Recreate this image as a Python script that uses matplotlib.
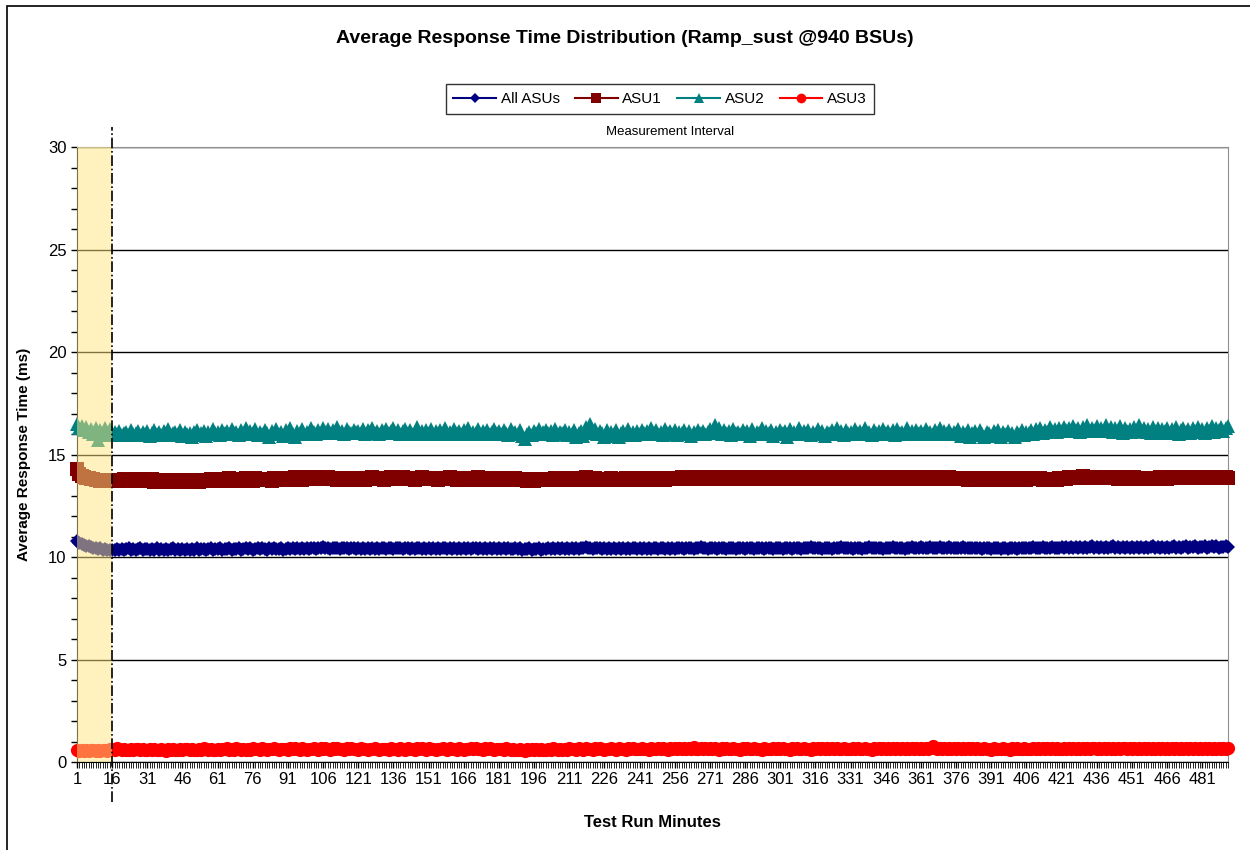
import numpy as np
import matplotlib.pyplot as plt
from matplotlib.ticker import MultipleLocator, FixedLocator
from matplotlib.patches import Rectangle

plt.rcParams['font.family'] = ['Liberation Sans', 'DejaVu Sans']

title = 'Average Response Time Distribution (Ramp_sust @940 BSUs)'
series_names = ['All ASUs', 'ASU1', 'ASU2', 'ASU3']
tick_minutes = list(range(1, 482, 15))
start_interval = 16

# average response time (ms) per minute, rows of 15 minutes
all_asus = [
    10.78,10.70,10.65,10.60,10.56,10.52,10.50,10.46,10.44,10.40,10.42,10.36,10.38,10.32,10.34,
    10.32,10.36,10.38,10.34,10.40,10.36,10.38,10.42,10.36,10.40,10.34,10.38,10.42,10.36,10.40,
    10.38,10.34,10.40,10.36,10.42,10.34,10.38,10.36,10.40,10.34,10.38,10.42,10.36,10.40,10.34,
    10.38,10.36,10.40,10.34,10.38,10.36,10.42,10.34,10.38,10.40,10.36,10.38,10.42,10.36,10.40,
    10.38,10.42,10.36,10.40,10.38,10.44,10.36,10.40,10.38,10.42,10.36,10.40,10.44,10.38,10.42,
    10.36,10.40,10.44,10.38,10.42,10.40,10.36,10.42,10.38,10.44,10.40,10.38,10.42,10.36,10.40,
    10.42,10.38,10.44,10.40,10.46,10.38,10.42,10.40,10.44,10.38,10.42,10.46,10.40,10.44,10.42,
    10.48,10.42,10.46,10.40,10.44,10.42,10.46,10.40,10.44,10.42,10.46,10.40,10.44,10.42,10.40,
    10.44,10.40,10.42,10.38,10.44,10.40,10.42,10.38,10.44,10.40,10.42,10.46,10.40,10.44,10.42,
    10.40,10.44,10.42,10.46,10.40,10.44,10.42,10.38,10.44,10.40,10.42,10.46,10.40,10.42,10.38,
    10.44,10.40,10.42,10.38,10.44,10.40,10.46,10.42,10.40,10.44,10.38,10.42,10.40,10.44,10.40,
    10.42,10.38,10.44,10.40,10.42,10.46,10.40,10.44,10.40,10.42,10.38,10.44,10.40,10.42,10.38,
    10.42,10.40,10.44,10.38,10.42,10.40,10.38,10.44,10.40,10.42,10.36,10.40,10.38,10.42,10.36,
    10.40,10.38,10.42,10.36,10.40,10.38,10.44,10.40,10.42,10.38,10.44,10.40,10.42,10.38,10.44,
    10.40,10.42,10.38,10.44,10.40,10.46,10.42,10.50,10.44,10.46,10.40,10.44,10.42,10.46,10.40,
    10.42,10.38,10.44,10.40,10.42,10.38,10.44,10.40,10.42,10.38,10.44,10.40,10.42,10.46,10.40,
    10.44,10.40,10.42,10.38,10.44,10.40,10.42,10.46,10.40,10.44,10.42,10.38,10.44,10.40,10.42,
    10.40,10.44,10.42,10.46,10.40,10.44,10.42,10.46,10.40,10.44,10.42,10.48,10.42,10.44,10.40,
    10.46,10.42,10.44,10.40,10.46,10.42,10.44,10.40,10.46,10.42,10.44,10.40,10.46,10.42,10.44,
    10.40,10.46,10.42,10.44,10.40,10.46,10.42,10.44,10.40,10.46,10.42,10.44,10.40,10.46,10.42,
    10.44,10.40,10.46,10.42,10.44,10.40,10.46,10.42,10.44,10.40,10.46,10.42,10.44,10.48,10.42,
    10.46,10.42,10.44,10.40,10.46,10.42,10.44,10.40,10.46,10.42,10.44,10.48,10.42,10.46,10.42,
    10.44,10.40,10.46,10.42,10.44,10.40,10.46,10.42,10.48,10.44,10.42,10.46,10.42,10.44,10.40,
    10.46,10.42,10.44,10.48,10.42,10.46,10.42,10.44,10.40,10.46,10.42,10.48,10.44,10.46,10.42,
    10.48,10.44,10.46,10.42,10.48,10.44,10.46,10.42,10.48,10.44,10.46,10.42,10.48,10.44,10.46,
    10.42,10.46,10.44,10.48,10.42,10.46,10.44,10.42,10.46,10.42,10.44,10.40,10.46,10.42,10.44,
    10.40,10.44,10.42,10.46,10.40,10.44,10.42,10.40,10.44,10.42,10.46,10.40,10.44,10.42,10.46,
    10.42,10.46,10.44,10.48,10.42,10.46,10.44,10.48,10.44,10.46,10.42,10.48,10.44,10.46,10.44,
    10.48,10.44,10.50,10.46,10.48,10.44,10.50,10.46,10.48,10.44,10.50,10.46,10.48,10.52,10.46,
    10.50,10.46,10.48,10.44,10.50,10.46,10.48,10.52,10.46,10.50,10.46,10.48,10.44,10.50,10.46,
    10.48,10.44,10.50,10.46,10.48,10.44,10.50,10.46,10.48,10.52,10.46,10.50,10.46,10.48,10.44,
    10.50,10.46,10.48,10.52,10.46,10.50,10.46,10.48,10.52,10.46,10.50,10.48,10.52,10.46,10.50,
    10.48,10.52,10.46,10.50,10.54,10.48,10.52,10.46,10.50,10.48,10.52,10.50,
]

asu1 = [
    14.30,14.05,13.95,13.90,13.85,13.85,13.80,13.80,13.75,13.78,13.72,13.75,13.70,13.72,13.70,
    13.72,13.75,13.70,13.78,13.72,13.80,13.75,13.70,13.78,13.82,13.75,13.72,13.80,13.75,13.70,
    13.78,13.72,13.80,13.68,13.75,13.70,13.78,13.72,13.66,13.75,13.70,13.78,13.72,13.68,13.75,
    13.70,13.78,13.72,13.68,13.75,13.70,13.72,13.66,13.74,13.70,13.78,13.72,13.80,13.75,13.70,
    13.78,13.82,13.75,13.80,13.72,13.85,13.78,13.80,13.75,13.82,13.70,13.78,13.85,13.75,13.80,
    13.72,13.85,13.78,13.80,13.74,13.82,13.76,13.80,13.72,13.85,13.78,13.82,13.76,13.80,13.84,
    13.78,13.82,13.75,13.88,13.80,13.84,13.78,13.90,13.82,13.86,13.80,13.92,13.84,13.88,13.82,
    13.90,13.84,13.88,13.80,13.86,13.82,13.78,13.84,13.80,13.86,13.78,13.82,13.80,13.84,13.78,
    13.82,13.80,13.86,13.78,13.84,13.80,13.88,13.82,13.86,13.80,13.84,13.78,13.86,13.82,13.88,
    13.82,13.86,13.80,13.84,13.88,13.82,13.86,13.80,13.84,13.78,13.86,13.82,13.88,13.80,13.84,
    13.80,13.86,13.82,13.84,13.78,13.86,13.80,13.84,13.82,13.88,13.80,13.84,13.78,13.86,13.82,
    13.84,13.80,13.86,13.78,13.84,13.82,13.88,13.80,13.84,13.78,13.86,13.82,13.80,13.84,13.78,
    13.82,13.78,13.84,13.80,13.76,13.82,13.78,13.84,13.76,13.80,13.74,13.78,13.72,13.80,13.76,
    13.72,13.78,13.74,13.80,13.76,13.82,13.74,13.80,13.76,13.84,13.78,13.82,13.76,13.80,13.84,
    13.78,13.82,13.76,13.84,13.80,13.86,13.78,13.90,13.82,13.86,13.80,13.84,13.78,13.82,13.80,
    13.76,13.82,13.78,13.84,13.74,13.80,13.76,13.82,13.78,13.84,13.76,13.80,13.82,13.78,13.84,
    13.80,13.86,13.78,13.82,13.80,13.84,13.78,13.86,13.82,13.80,13.84,13.78,13.86,13.80,13.84,
    13.82,13.86,13.80,13.88,13.82,13.86,13.84,13.90,13.82,13.86,13.80,13.88,13.84,13.86,13.82,
    13.88,13.84,13.90,13.82,13.86,13.84,13.90,13.82,13.88,13.84,13.86,13.80,13.88,13.84,13.86,
    13.82,13.88,13.84,13.86,13.80,13.88,13.82,13.86,13.84,13.88,13.80,13.86,13.84,13.88,13.82,
    13.86,13.84,13.88,13.80,13.86,13.82,13.88,13.84,13.86,13.80,13.88,13.84,13.86,13.82,13.88,
    13.84,13.86,13.80,13.88,13.84,13.86,13.82,13.88,13.84,13.90,13.82,13.86,13.84,13.88,13.82,
    13.86,13.84,13.88,13.82,13.90,13.84,13.86,13.82,13.88,13.84,13.86,13.80,13.88,13.84,13.86,
    13.82,13.88,13.84,13.86,13.80,13.88,13.84,13.86,13.82,13.88,13.84,13.90,13.82,13.86,13.84,
    13.88,13.82,13.86,13.84,13.90,13.82,13.86,13.84,13.88,13.80,13.86,13.84,13.88,13.82,13.86,
    13.84,13.80,13.86,13.82,13.84,13.78,13.86,13.82,13.80,13.84,13.78,13.82,13.80,13.84,13.78,
    13.82,13.80,13.84,13.78,13.82,13.76,13.80,13.84,13.78,13.82,13.80,13.78,13.84,13.80,13.82,
    13.78,13.84,13.80,13.86,13.82,13.80,13.84,13.78,13.82,13.76,13.80,13.74,13.82,13.78,13.84,
    13.80,13.86,13.82,13.88,13.84,13.90,13.86,13.92,13.88,13.94,13.86,13.90,13.88,13.92,13.86,
    13.90,13.86,13.92,13.84,13.88,13.86,13.90,13.84,13.88,13.82,13.86,13.84,13.88,13.82,13.86,
    13.84,13.88,13.82,13.86,13.80,13.84,13.82,13.86,13.80,13.84,13.86,13.82,13.88,13.84,13.86,
    13.82,13.88,13.84,13.90,13.86,13.88,13.84,13.90,13.86,13.92,13.84,13.88,13.86,13.90,13.84,
    13.88,13.92,13.86,13.90,13.84,13.88,13.92,13.86,13.90,13.84,13.88,13.86,
]

asu2 = [
    16.50,16.30,16.40,16.20,16.35,16.10,16.25,16.00,16.30,15.70,16.20,15.95,16.30,16.05,16.25,
    15.95,16.10,16.00,16.15,15.95,16.05,16.10,15.95,16.20,16.00,16.05,16.15,15.95,16.10,16.00,
    16.15,15.90,16.05,16.20,16.00,16.10,15.95,16.15,16.05,16.25,15.95,16.05,16.10,16.00,16.20,
    15.90,16.10,16.00,16.05,15.85,16.10,16.20,15.95,16.05,16.15,15.90,16.10,16.00,16.25,16.05,
    16.10,15.95,16.20,16.05,16.15,16.00,16.25,16.05,16.10,15.95,16.20,16.05,16.30,16.00,16.15,
    16.05,16.25,15.95,16.10,16.00,16.20,16.05,15.85,16.15,16.05,16.25,16.00,16.10,15.90,16.20,
    16.05,16.30,16.00,15.85,16.15,16.05,16.25,16.00,16.10,16.05,16.30,16.10,16.00,16.20,16.05,
    16.30,16.10,16.25,16.05,16.20,16.10,16.35,16.05,16.15,16.00,16.25,16.10,16.05,16.20,16.10,
    16.15,16.05,16.25,16.00,16.20,16.10,16.30,16.05,16.15,16.00,16.20,16.10,16.25,16.05,16.15,
    16.30,16.05,16.20,16.00,16.15,16.25,16.05,16.20,16.00,16.10,16.35,16.05,16.15,16.00,16.20,
    16.05,16.25,16.00,16.15,16.05,16.20,16.00,16.30,16.05,16.10,16.00,16.25,16.05,16.15,16.00,
    16.20,16.05,16.30,16.00,16.10,16.05,16.25,16.00,16.15,16.05,16.20,16.00,16.10,16.25,16.05,
    16.15,16.00,16.20,16.05,15.95,16.25,16.05,16.10,16.00,16.20,15.90,15.75,16.00,16.10,15.95,
    16.15,16.05,16.25,16.00,16.10,16.20,16.05,16.15,15.95,16.25,16.00,16.10,16.05,16.20,15.95,
    16.10,16.00,16.20,15.85,16.05,16.15,15.90,16.35,16.10,16.50,16.05,16.25,16.00,16.15,16.05,
    15.85,16.20,15.90,16.10,16.00,16.20,15.85,16.05,16.15,15.95,16.25,16.00,16.10,15.95,16.15,
    16.00,16.20,16.05,16.15,16.00,16.30,16.05,16.20,16.00,16.10,15.95,16.25,16.05,16.15,16.00,
    16.20,15.95,16.10,16.05,16.20,16.00,16.15,15.90,16.10,16.00,16.20,16.05,16.15,16.00,16.10,
    16.25,16.05,16.45,16.10,16.30,16.00,16.20,16.05,16.15,15.95,16.25,16.05,16.10,16.00,16.20,
    16.05,16.15,15.90,16.25,16.00,16.10,16.05,16.30,16.00,16.15,16.05,16.20,15.90,16.10,16.00,
    16.20,16.05,16.15,15.85,16.25,16.00,16.10,16.05,16.30,16.00,16.15,16.05,16.20,15.95,16.10,
    16.00,16.25,16.05,16.15,15.90,16.10,16.05,16.20,16.00,16.30,16.05,16.15,15.95,16.20,16.05,
    16.10,16.00,16.25,16.05,16.15,16.00,16.30,16.05,16.10,15.95,16.20,16.05,16.15,16.00,16.25,
    16.05,16.15,16.00,16.20,15.95,16.25,16.05,16.10,16.00,16.30,16.05,16.15,16.00,16.20,16.05,
    16.15,16.00,16.25,16.05,16.10,16.00,16.20,16.05,16.30,16.00,16.15,16.05,16.20,16.00,16.10,
    16.05,16.25,15.90,16.10,16.00,16.20,15.85,16.05,16.15,15.95,16.20,16.00,15.85,16.10,16.05,
    15.90,16.15,16.05,16.20,15.85,16.10,16.00,16.15,15.95,16.05,15.85,16.10,16.00,16.20,15.95,
    16.10,16.05,16.20,16.00,16.25,16.10,16.30,16.05,16.20,16.10,16.35,16.15,16.25,16.10,16.30,
    16.15,16.35,16.20,16.30,16.15,16.40,16.20,16.30,16.10,16.35,16.20,16.45,16.15,16.30,16.20,
    16.40,16.15,16.30,16.20,16.45,16.15,16.35,16.10,16.30,16.20,16.40,16.05,16.30,16.15,16.25,
    16.10,16.35,16.20,16.45,16.15,16.30,16.10,16.25,16.05,16.35,16.15,16.30,16.05,16.25,16.15,
    16.30,16.05,16.25,16.10,16.35,16.00,16.20,16.30,16.10,16.25,16.05,16.30,16.15,16.35,16.10,
    16.25,16.05,16.30,16.15,16.40,16.10,16.30,16.20,16.35,16.15,16.30,16.40,
]

asu3 = [
    0.58,0.55,0.60,0.56,0.58,0.54,0.60,0.57,0.55,0.59,0.56,0.60,0.58,0.55,0.62,
    0.64,0.60,0.66,0.62,0.60,0.64,0.61,0.58,0.63,0.60,0.65,0.62,0.59,0.64,0.61,
    0.58,0.62,0.60,0.64,0.61,0.57,0.63,0.60,0.55,0.62,0.59,0.64,0.61,0.58,0.63,
    0.60,0.65,0.62,0.59,0.64,0.61,0.58,0.63,0.60,0.66,0.62,0.59,0.64,0.61,0.58,
    0.63,0.60,0.65,0.62,0.67,0.61,0.64,0.60,0.66,0.62,0.59,0.65,0.61,0.63,0.60,
    0.66,0.62,0.64,0.60,0.67,0.63,0.61,0.65,0.62,0.68,0.63,0.60,0.65,0.62,0.64,
    0.61,0.66,0.62,0.69,0.64,0.60,0.66,0.63,0.61,0.65,0.62,0.67,0.63,0.60,0.66,
    0.62,0.70,0.64,0.61,0.66,0.63,0.68,0.62,0.65,0.61,0.66,0.63,0.69,0.62,0.64,
    0.61,0.66,0.62,0.64,0.60,0.65,0.62,0.67,0.63,0.60,0.65,0.62,0.64,0.60,0.66,
    0.62,0.64,0.60,0.68,0.63,0.61,0.66,0.62,0.64,0.60,0.66,0.62,0.69,0.63,0.61,
    0.66,0.62,0.64,0.60,0.65,0.62,0.67,0.63,0.60,0.66,0.62,0.64,0.60,0.66,0.63,
    0.61,0.65,0.62,0.70,0.63,0.66,0.62,0.64,0.60,0.66,0.62,0.68,0.63,0.61,0.65,
    0.62,0.64,0.60,0.66,0.62,0.59,0.64,0.61,0.57,0.63,0.60,0.55,0.62,0.59,0.64,
    0.60,0.63,0.59,0.65,0.61,0.58,0.64,0.60,0.66,0.62,0.59,0.65,0.61,0.63,0.60,
    0.66,0.62,0.64,0.60,0.67,0.63,0.61,0.66,0.62,0.64,0.60,0.66,0.62,0.68,0.63,
    0.61,0.65,0.62,0.67,0.63,0.60,0.66,0.62,0.64,0.61,0.67,0.63,0.69,0.62,0.65,
    0.62,0.67,0.63,0.65,0.61,0.68,0.64,0.62,0.66,0.63,0.70,0.64,0.61,0.66,0.63,
    0.68,0.64,0.66,0.62,0.69,0.64,0.67,0.63,0.71,0.65,0.62,0.67,0.64,0.69,0.63,
    0.66,0.62,0.68,0.64,0.61,0.66,0.63,0.69,0.64,0.62,0.67,0.63,0.65,0.61,0.66,
    0.63,0.68,0.64,0.62,0.66,0.63,0.65,0.61,0.67,0.63,0.65,0.62,0.68,0.64,0.66,
    0.62,0.67,0.63,0.65,0.61,0.66,0.63,0.68,0.64,0.62,0.66,0.63,0.65,0.61,0.67,
    0.63,0.70,0.64,0.66,0.62,0.68,0.64,0.66,0.63,0.69,0.64,0.62,0.67,0.63,0.65,
    0.62,0.66,0.63,0.68,0.64,0.62,0.67,0.63,0.65,0.61,0.66,0.63,0.68,0.64,0.66,
    0.62,0.67,0.64,0.66,0.63,0.69,0.64,0.66,0.62,0.68,0.64,0.66,0.63,0.67,0.64,
    0.70,0.65,0.67,0.63,0.68,0.78,0.66,0.64,0.69,0.65,0.67,0.63,0.68,0.64,0.66,
    0.62,0.67,0.64,0.66,0.62,0.68,0.64,0.66,0.63,0.67,0.64,0.62,0.66,0.63,0.65,
    0.61,0.66,0.63,0.65,0.62,0.67,0.63,0.65,0.61,0.66,0.63,0.68,0.64,0.62,0.66,
    0.63,0.65,0.62,0.67,0.64,0.66,0.62,0.68,0.64,0.66,0.63,0.67,0.64,0.69,0.65,
    0.63,0.67,0.64,0.66,0.62,0.68,0.65,0.67,0.63,0.69,0.65,0.67,0.64,0.70,0.66,
    0.64,0.68,0.65,0.67,0.63,0.69,0.65,0.67,0.64,0.68,0.65,0.70,0.66,0.64,0.68,
    0.65,0.67,0.63,0.68,0.65,0.67,0.64,0.69,0.65,0.67,0.63,0.68,0.65,0.67,0.64,
    0.68,0.65,0.67,0.63,0.69,0.65,0.67,0.64,0.68,0.65,0.67,0.63,0.68,0.65,0.67,
    0.64,0.68,0.65,0.67,0.63,0.69,0.65,0.67,0.64,0.68,0.65,0.67,
]

colors = ['#000080', '#800000', '#008080', '#FF0000']
markers = ['D', 's', '^', 'o']
msizes = [7, 10, 10.5, 9.5]
legend_sizes = [5, 7, 7, 7]

fig = plt.figure(figsize=(12.5, 8.5), dpi=100)
ax = fig.add_axes([0.0616, 0.1035, 0.9208, 0.7235])

handles = []
n_max = 0
for vals, name, c, m, ms, ls in zip([all_asus, asu1, asu2, asu3], series_names, colors,
                                    markers, msizes, legend_sizes):
    x = np.arange(1, len(vals) + 1)
    n_max = max(n_max, len(vals))
    ax.plot(x, vals, color=c, marker=m, markersize=ms, markeredgewidth=0,
            linewidth=1.5, zorder=3, clip_on=False)
    handles.append(plt.Line2D([], [], color=c, marker=m, markersize=ls,
                              markeredgewidth=0, linewidth=1.5, label=name))

ax.set_xlim(1, n_max)
ax.set_ylim(0, 30)

# gridlines
ax.yaxis.set_major_locator(MultipleLocator(5))
ax.yaxis.set_minor_locator(MultipleLocator(1))
ax.grid(axis='y', which='major', color='black', linewidth=1, zorder=1)
ax.set_axisbelow(True)
ax.xaxis.set_major_locator(FixedLocator(tick_minutes))
ax.xaxis.set_minor_locator(MultipleLocator(1))
ax.tick_params(axis='both', which='both', direction='out', length=4, width=1, color='black')
ax.tick_params(axis='both', which='major', labelsize=12)
ax.tick_params(axis='x', which='minor', length=4, width=0.6)

for s in ['top', 'right']:
    ax.spines[s].set_color('#909090')
for s in ['left', 'bottom']:
    ax.spines[s].set_color('black')

# startup window shading over the data
ax.axvspan(1, start_interval, facecolor='#FFE680', alpha=0.5, zorder=5, linewidth=0)
ax.axvline(start_interval, ymin=-0.065, ymax=1.033, color='black', linestyle='-.',
           linewidth=1.2, clip_on=False, zorder=6)
ax.text((start_interval + n_max) / 2, 1.015, 'Measurement Interval', transform=ax.get_xaxis_transform(),
        ha='center', va='bottom', fontsize=9.5)

ax.set_xlabel('Test Run Minutes', fontsize=12, fontweight='bold', labelpad=20)
ax.set_ylabel('Average Response Time (ms)', fontsize=11, fontweight='bold', labelpad=12)
fig.suptitle(title, fontsize=14, fontweight='bold', y=0.955, va='center')

leg = fig.legend(handles=handles, loc='center', bbox_to_anchor=(0.528, 0.8835), ncol=4,
                 fontsize=11, frameon=True, fancybox=False, edgecolor='black', handlelength=2.8,
                 columnspacing=1.0, handletextpad=0.3, borderpad=0.5)
leg.get_frame().set_linewidth(1)

fig.patches.append(Rectangle((0.0056, -0.1), 1.2, 1.093, transform=fig.transFigure,
                             fill=False, edgecolor='black', linewidth=1.2))

fig.savefig('out.png', dpi=100)
